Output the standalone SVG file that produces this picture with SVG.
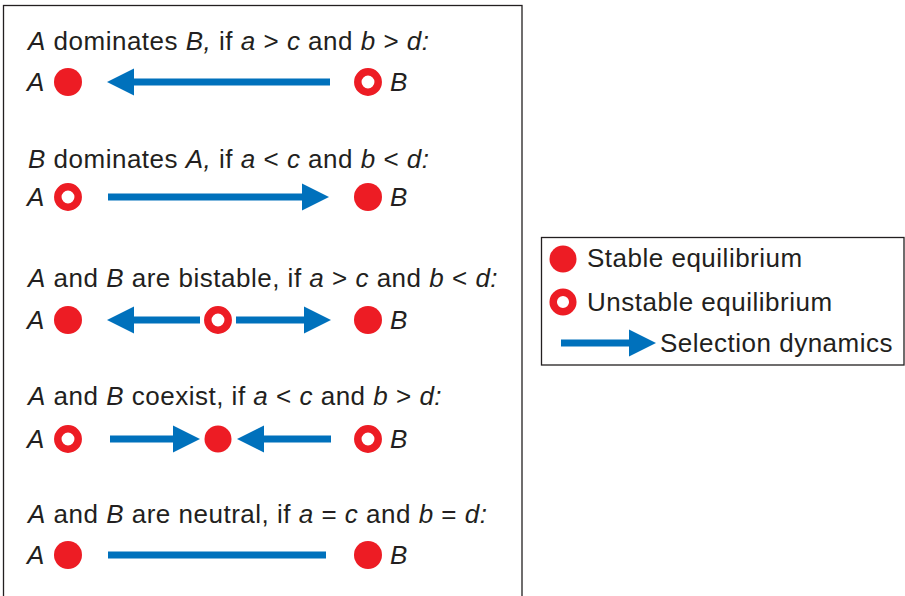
<svg xmlns="http://www.w3.org/2000/svg" width="905" height="596" viewBox="0 0 905 596">
<style>
text{font-family:"Liberation Sans",Arial,sans-serif;font-size:26px;letter-spacing:0.5px;fill:#231f20}
.i{font-style:italic}
.st{fill:#ed1c24}
.un{fill:#fff;stroke:#ed1c24;stroke-width:7.5}
.ln{stroke:#0071bc;stroke-width:7;fill:none}
.box{fill:#fff;stroke:#231f20;stroke-width:1.3}
</style>
<defs>
<marker id="ah" markerUnits="userSpaceOnUse" markerWidth="28" markerHeight="28" viewBox="0 -14 28 28" refX="0" refY="0" orient="auto">
<path d="M0,-13.5 L27,0 L0,13.5 Z" fill="#0071bc"/>
</marker>
</defs>
<rect class="box" x="3.5" y="5.5" width="518.5" height="600"/>
<rect class="box" x="541.5" y="237.5" width="362.5" height="127.5"/>
<g id="headings">
<text x="28" y="50"><tspan class="i">A</tspan> dominates <tspan class="i">B,</tspan> if <tspan class="i">a</tspan> &gt; <tspan class="i">c</tspan> and <tspan class="i">b</tspan> &gt; <tspan class="i">d:</tspan></text>
<text x="28" y="168"><tspan class="i">B</tspan> dominates <tspan class="i">A,</tspan> if <tspan class="i">a</tspan> &lt; <tspan class="i">c</tspan> and <tspan class="i">b</tspan> &lt; <tspan class="i">d:</tspan></text>
<text x="28" y="287"><tspan class="i">A</tspan> and <tspan class="i">B</tspan> are bistable, if <tspan class="i">a</tspan> &gt; <tspan class="i">c</tspan> and <tspan class="i">b</tspan> &lt; <tspan class="i">d:</tspan></text>
<text x="28" y="405"><tspan class="i">A</tspan> and <tspan class="i">B</tspan> coexist, if <tspan class="i">a</tspan> &lt; <tspan class="i">c</tspan> and <tspan class="i">b</tspan> &gt; <tspan class="i">d:</tspan></text>
<text x="28" y="523"><tspan class="i">A</tspan> and <tspan class="i">B</tspan> are neutral, if <tspan class="i">a</tspan> = <tspan class="i">c</tspan> and <tspan class="i">b</tspan> = <tspan class="i">d:</tspan></text>
</g>
<g id="connectors">
<path class="ln" d="M330,82 H134" marker-end="url(#ah)"/>
<path class="ln" d="M108,197 H302" marker-end="url(#ah)"/>
<path class="ln" d="M200,320 H134" marker-end="url(#ah)"/>
<path class="ln" d="M236,320 H304" marker-end="url(#ah)"/>
<path class="ln" d="M110,439 H173" marker-end="url(#ah)"/>
<path class="ln" d="M331,439 H264" marker-end="url(#ah)"/>
<path class="ln" d="M108,555 H326"/>
<path class="ln" d="M561,343 H629" marker-end="url(#ah)"/>
</g>
<g id="row1">
<text class="i" x="27" y="91">A</text><circle class="st" cx="68" cy="82" r="14"/>
<circle class="un" cx="368" cy="82" r="10.2"/><text class="i" x="390" y="91">B</text>
</g>
<g id="row2">
<text class="i" x="27" y="206">A</text><circle class="un" cx="68" cy="197" r="10.2"/>
<circle class="st" cx="368" cy="197" r="14"/><text class="i" x="390" y="206">B</text>
</g>
<g id="row3">
<text class="i" x="27" y="329">A</text><circle class="st" cx="68" cy="320" r="14"/>
<circle class="un" cx="218" cy="320" r="10.2"/>
<circle class="st" cx="368" cy="320" r="14"/><text class="i" x="390" y="329">B</text>
</g>
<g id="row4">
<text class="i" x="27" y="448">A</text><circle class="un" cx="68" cy="439" r="10.2"/>
<circle class="st" cx="218" cy="439" r="13.5"/>
<circle class="un" cx="368" cy="439" r="10.2"/><text class="i" x="390" y="448">B</text>
</g>
<g id="row5">
<text class="i" x="27" y="564">A</text><circle class="st" cx="68" cy="555" r="14"/>
<circle class="st" cx="368" cy="555" r="14"/><text class="i" x="390" y="564">B</text>
</g>
<g id="legend">
<circle class="st" cx="563" cy="259" r="13.5"/><text x="587" y="267">Stable equilibrium</text>
<circle class="un" cx="563" cy="302" r="9.8"/><text x="587" y="311">Unstable equilibrium</text>
<text x="660" y="352">Selection dynamics</text>
</g>
</svg>
